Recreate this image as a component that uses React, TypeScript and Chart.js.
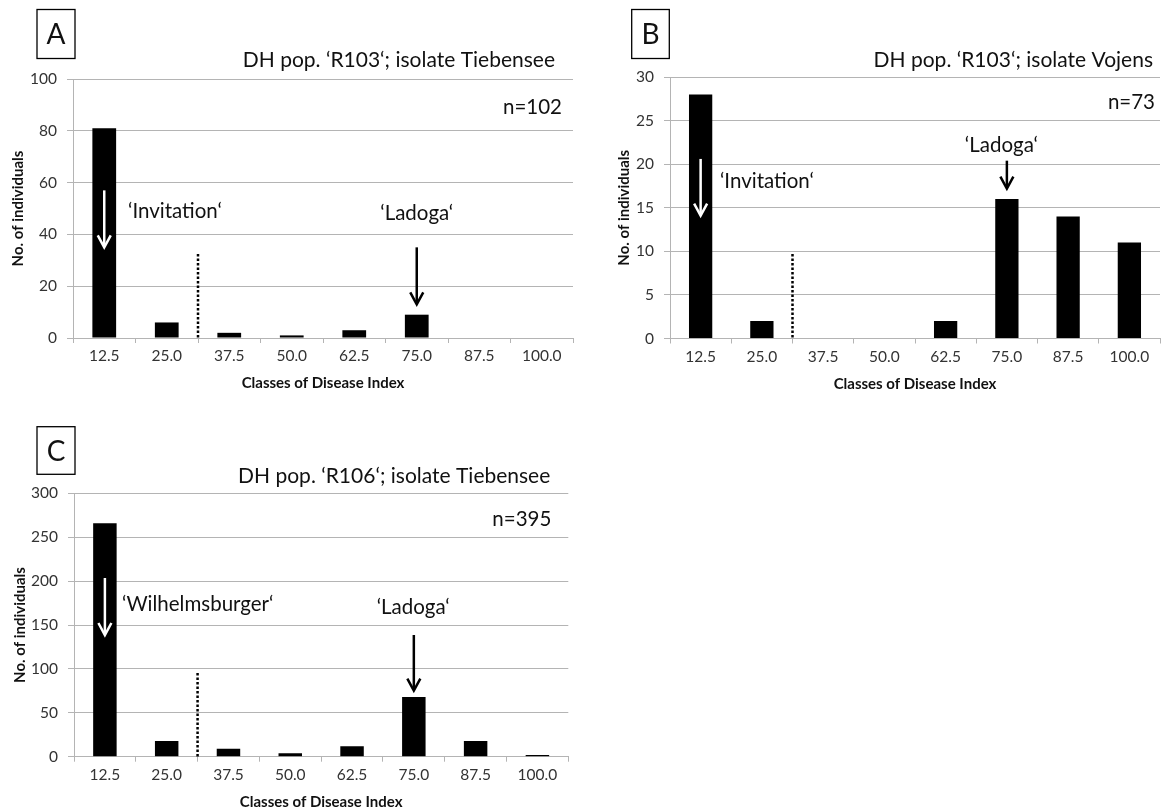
import React, { useEffect, useRef } from "react";
import { Chart, registerables } from "chart.js";

Chart.register(...registerables);

// ---------- data ----------
const categories = ["12.5", "25.0", "37.5", "50.0", "62.5", "75.0", "87.5", "100.0"];
const valuesA = [81, 6, 2, 1, 3, 9, 0, 0];
const valuesB = [28, 2, 0, 0, 2, 16, 14, 11];
const valuesC = [266, 18, 9, 4, 12, 68, 18, 2];
const panelLetters = ["A", "B", "C"];
const panelTitles = [
  "DH pop. \u2018R103\u2018; isolate Tiebensee",
  "DH pop. \u2018R103\u2018; isolate Vojens",
  "DH pop. \u2018R106\u2018; isolate Tiebensee",
];
const sampleSizes = ["n=102", "n=73", "n=395"];
const parentLabels = ["\u2018Invitation\u2018", "\u2018Invitation\u2018", "\u2018Wilhelmsburger\u2018"];
const resistantLabel = "\u2018Ladoga\u2018";
const yMaxes = [100, 30, 300];
const ySteps = [20, 5, 50];
const xTitle = "Classes of Disease Index";
const yTitle = "No. of individuals";

// ---------- styling / layout ----------
const FONT = "Lato, 'Open Sans', sans-serif";
const GRID = "#b4b4b4";
const TICK = "#333333";
const TEXT = "#111111";

type Panel = {
  values: number[];
  idx: number;
  left: number; top: number; w: number; h: number;
  area: { left: number; top: number; right: number; bottom: number };
  box: [number, number, number, number];
  titleDx: number; titleY: number;
  nDx: number; nV: number;
  parentCat: number; parentV: number;
  parentArrow: [number, number];
  ladCat: number; ladV: number;
  ladArrow: [number, number];
  dotTo: number;
  yTitleX: number;
};

const panels: Panel[] = [
  {
    values: valuesA, idx: 0, left: 0, top: 0, w: 580, h: 400,
    area: { left: 73, top: 79, right: 573, bottom: 338 },
    box: [37, 9.5, 75, 58.5], titleDx: -18, titleY: 60,
    nDx: -11, nV: 89, parentCat: 0.38, parentV: 49, parentArrow: [57, 35],
    ladCat: 5, ladV: 48.3, ladArrow: [35, 13], dotTo: 32.4, yTitleX: 18.5,
  },
  {
    values: valuesB, idx: 1, left: 580, top: 0, w: 581, h: 400,
    area: { left: 90, top: 77, right: 580, bottom: 338.5 },
    box: [51.7, 9.5, 89.3, 58.5], titleDx: -7, titleY: 60,
    nDx: -5, nV: 27.1, parentCat: 0.316, parentV: 18, parentArrow: [20.6, 14.1],
    ladCat: 4.91, ladV: 22.2, ladArrow: [20.4, 17.2], dotTo: 9.7, yTitleX: 44.4,
  },
  {
    values: valuesC, idx: 2, left: 0, top: 400, w: 580, h: 412,
    area: { left: 74, top: 93.3, right: 568.3, bottom: 356.7 },
    box: [37, 26.7, 75, 74.3], titleDx: -18, titleY: 76.7,
    nDx: -17, nV: 270.7, parentCat: 0.277, parentV: 174, parentArrow: [203.5, 138.6],
    ladCat: 4.99, ladV: 169.5, ladArrow: [138.6, 75.2], dotTo: 95.3, yTitleX: 20,
  },
];

function drawArrow(ctx: CanvasRenderingContext2D, x: number, y0: number, y1: number, color: string) {
  ctx.save();
  ctx.strokeStyle = color;
  ctx.lineWidth = 2.5;
  ctx.beginPath();
  ctx.moveTo(x, y0);
  ctx.lineTo(x, y1 - 1);
  ctx.stroke();
  ctx.beginPath();
  ctx.moveTo(x - 6.5, y1 - 12);
  ctx.lineTo(x, y1);
  ctx.lineTo(x + 6.5, y1 - 12);
  ctx.stroke();
  ctx.restore();
}

function makeAnnot(p: Panel) {
  return {
    id: "annot" + p.idx,
    afterDraw(chart: any) {
      const ctx: CanvasRenderingContext2D = chart.ctx;
      const xs = chart.scales.x;
      const ys = chart.scales.y;
      const ca = chart.chartArea;
      const X = (c: number) => xs.getPixelForValue(c);
      const Y = (v: number) => ys.getPixelForValue(v);
      ctx.save();
      // panel letter box
      const [bx0, by0, bx1, by1] = p.box;
      ctx.strokeStyle = "#000";
      ctx.lineWidth = 1.3;
      ctx.strokeRect(bx0, by0, bx1 - bx0, by1 - by0);
      ctx.fillStyle = TEXT;
      ctx.font = `28px ${FONT}`;
      ctx.textAlign = "center";
      ctx.textBaseline = "middle";
      ctx.fillText(panelLetters[p.idx], (bx0 + bx1) / 2, (by0 + by1) / 2 + 1);
      // title
      ctx.font = `21px ${FONT}`;
      ctx.textAlign = "right";
      ctx.fillText(panelTitles[p.idx], ca.right + p.titleDx, p.titleY);
      // n
      ctx.font = `20.5px ${FONT}`;
      ctx.fillText(sampleSizes[p.idx], ca.right + p.nDx, Y(p.nV));
      // parent label
      ctx.textAlign = "left";
      ctx.fillText(parentLabels[p.idx], X(p.parentCat), Y(p.parentV));
      // resistant label
      ctx.textAlign = "center";
      ctx.fillText(resistantLabel, X(p.ladCat), Y(p.ladV));
      // arrows
      drawArrow(ctx, X(0), Y(p.parentArrow[0]), Y(p.parentArrow[1]), "#ffffff");
      drawArrow(ctx, X(5), Y(p.ladArrow[0]), Y(p.ladArrow[1]), "#000000");
      // dotted threshold line
      ctx.strokeStyle = "#000";
      ctx.lineWidth = 2.5;
      ctx.setLineDash([2.5, 2]);
      ctx.beginPath();
      ctx.moveTo(X(1.5), Y(p.dotTo));
      ctx.lineTo(X(1.5), Y(0));
      ctx.stroke();
      ctx.setLineDash([]);
      // axis titles
      ctx.fillStyle = TEXT;
      ctx.font = `bold 15px ${FONT}`;
      ctx.textAlign = "center";
      ctx.fillText(xTitle, (ca.left + ca.right) / 2, ca.bottom + 45.5);
      ctx.translate(p.yTitleX, (ca.top + ca.bottom) / 2);
      ctx.rotate(-Math.PI / 2);
      ctx.fillText(yTitle, 0, 0);
      ctx.restore();
    },
  };
}

function PanelChart({ p }: { p: Panel }) {
  const ref = useRef<HTMLCanvasElement | null>(null);
  useEffect(() => {
    if (!ref.current) return;
    const chart = new Chart(ref.current, {
      type: "bar",
      data: {
        labels: categories,
        datasets: [
          {
            data: p.values,
            backgroundColor: "#000000",
            borderWidth: 0,
            barPercentage: 0.38,
            categoryPercentage: 1,
          },
        ],
      },
      options: {
        responsive: false,
        animation: false,
        layout: { padding: { top: p.area.top, right: p.w - p.area.right, left: 0, bottom: 0 } },
        plugins: { legend: { display: false }, tooltip: { enabled: false }, title: { display: false } },
        scales: {
          x: {
            type: "category",
            offset: true,
            grid: { offset: true, drawOnChartArea: false, drawTicks: true, tickLength: 5, color: GRID },
            border: { color: GRID },
            ticks: { font: { family: FONT, size: 15.5 }, color: TICK, padding: 4, maxRotation: 0, autoSkip: false },
            afterFit: (s: any) => { s.height = p.h - p.area.bottom; },
          },
          y: {
            min: 0,
            max: yMaxes[p.idx],
            ticks: { stepSize: ySteps[p.idx], font: { family: FONT, size: 15.5 }, color: TICK, padding: 10 },
            grid: { color: GRID, tickLength: 6 },
            border: { color: GRID },
            afterFit: (s: any) => { s.width = p.area.left; },
          },
        },
      } as any,
      plugins: [makeAnnot(p)],
    });
    return () => chart.destroy();
  }, [p]);
  return (
    <canvas
      ref={ref}
      width={p.w}
      height={p.h}
      style={{ position: "absolute", left: p.left, top: p.top, width: p.w, height: p.h }}
    />
  );
}

export default function App() {
  return (
    <div style={{ position: "absolute", left: 0, top: 0, width: 1161, height: 812, background: "#fff", overflow: "hidden" }}>
      {panels.map((p) => (
        <PanelChart key={p.idx} p={p} />
      ))}
    </div>
  );
}
